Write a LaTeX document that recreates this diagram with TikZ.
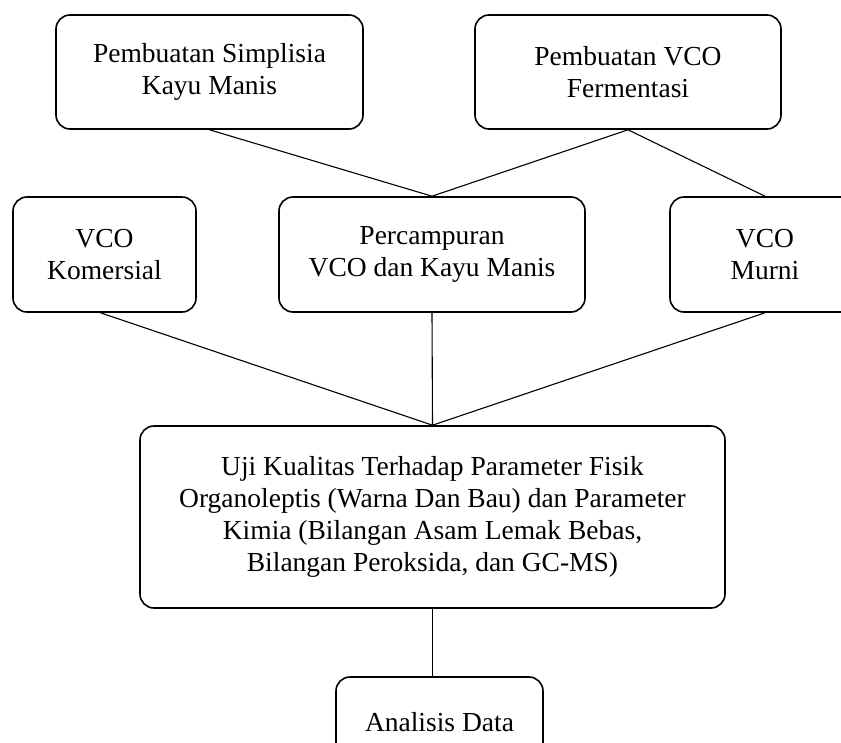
\documentclass[tikz,border=0pt]{standalone}
\usepackage{fontspec}
\setmainfont{Liberation Serif}

\begin{document}
\begin{tikzpicture}
  [x=1pt, y=-1pt,
   every node/.style={draw, line width=1.6pt, rounded corners=14pt, align=center,
                      inner sep=0pt, font=\fontsize{27.5}{32}\selectfont},
   link/.style={line width=1.1pt}]

  \useasboundingbox (0,0) rectangle (841,742);

  \node[minimum width=307pt, minimum height=114pt] (simplisia) at (209.5,72)  {Pembuatan Simplisia\\Kayu Manis};
  \node[minimum width=306pt, minimum height=114pt] (fermentasi) at (628,72)   {Pembuatan VCO\\Fermentasi};
  \node[minimum width=183pt, minimum height=115pt] (komersial) at (104.5,254.5) {VCO\\Komersial};
  \node[minimum width=306pt, minimum height=115pt] (campur) at (432,254.5)    {Percampuran\\VCO dan Kayu Manis};
  \node[minimum width=190pt, minimum height=115pt] (murni) at (765,254.5)     {VCO\\Murni};
  \node[minimum width=585pt, minimum height=182pt] (uji) at (432.5,517)
    {Uji Kualitas Terhadap Parameter Fisik\\Organoleptis (Warna Dan Bau) dan Parameter\\Kimia (Bilangan Asam Lemak Bebas,\\Bilangan Peroksida, dan GC-MS)};
  \node[minimum width=207pt, minimum height=90pt] (analisis) at (439.5,722)  {Analisis Data};

  \draw[link] (simplisia.south) -- (campur.north);
  \draw[link] (fermentasi.south) -- (campur.north);
  \draw[link] (fermentasi.south) -- (murni.north);
  \draw[link] ([xshift=-4pt]komersial.south) -- (uji.north);
  \draw[link] (campur.south) -- (uji.north);
  \draw[link] (murni.south) -- (uji.north);
  \draw[link] (uji.south) -- (uji.south |- analisis.north);
\end{tikzpicture}
\end{document}
